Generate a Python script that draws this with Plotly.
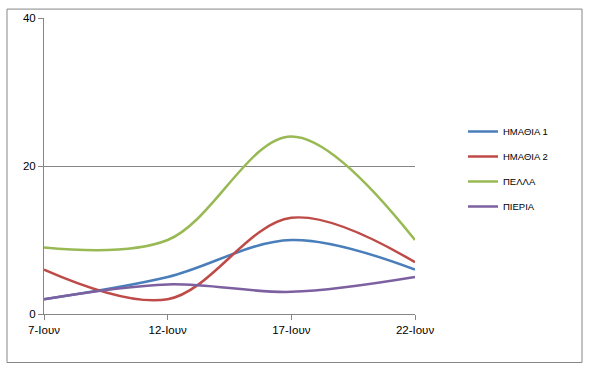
import plotly.graph_objects as go

categories = ["7-Ιουν", "12-Ιουν", "17-Ιουν", "22-Ιουν"]
imathia1 = [2, 5, 10, 6]
imathia2 = [6, 2, 13, 7]
pella = [9, 10, 24, 10]
pieria = [2, 4, 3, 5]

series = [
    ("ΗΜΑΘΙΑ 1", imathia1, "#4A7EBB"),
    ("ΗΜΑΘΙΑ 2", imathia2, "#BE4B48"),
    ("ΠΕΛΛΑ", pella, "#98B954"),
    ("ΠΙΕΡΙΑ", pieria, "#7D60A0"),
]

fig = go.Figure()
for i, (name, vals, col) in enumerate(series):
    fig.add_trace(go.Scatter(
        x=categories, y=vals, name=name, mode="lines",
        line=dict(color=col, width=2.5, shape="spline", smoothing=1.0),
        legendgroup=f"g{i}",
    ))

W, H = 595, 371
L, R, T, B = 44, 415, 15, 314
pw, ph = R - L, B - T

def px(x):
    return (x - L) / pw

def py(y):
    return (B - y) / ph

fig.update_layout(
    width=W, height=H,
    margin=dict(l=L, r=W - R, t=T, b=H - B),
    paper_bgcolor="white", plot_bgcolor="white",
    font=dict(family="Liberation Sans, Arial, sans-serif", size=11, color="black"),
    showlegend=True,
    legend=dict(
        x=px(463), y=py(115), xanchor="left", yanchor="top",
        font=dict(size=9.5, color="black"),
        traceorder="grouped", tracegroupgap=6,
        itemwidth=30, bgcolor="rgba(0,0,0,0)",
    ),
    xaxis=dict(
        type="category", range=[0, 3], showgrid=False,
        showline=True, linecolor="#868686", linewidth=1,
        ticks="outside", ticklen=5, tickcolor="#868686",
        tickfont=dict(size=11.5), zeroline=False, fixedrange=True,
    ),
    yaxis=dict(
        range=[0, 40], dtick=20, showgrid=True, gridcolor="#868686", gridwidth=1,
        showline=True, linecolor="#868686", linewidth=1,
        ticks="outside", ticklen=5, tickcolor="#868686",
        tickfont=dict(size=11.5), zeroline=False, fixedrange=True,
    ),
    shapes=[dict(
        type="rect", xref="paper", yref="paper",
        x0=px(7), x1=px(582), y0=py(363), y1=py(6),
        line=dict(color="#868686", width=1), fillcolor="rgba(0,0,0,0)",
        layer="below",
    )],
)

fig.write_html("out.html", post_script="document.body.style.margin='0';",
               config={"displayModeBar": False})
